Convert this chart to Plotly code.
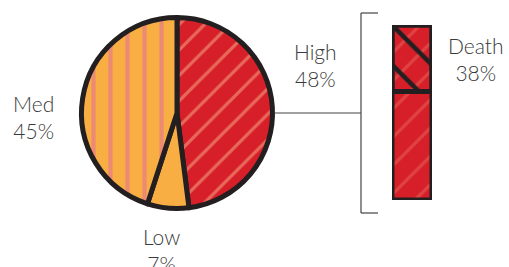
import plotly.graph_objects as go
import numpy as np

pie_labels = ["High", "Low", "Med"]
pie_values = [48, 7, 45]
pie_colors = ["#d71f2a", "#f9ae43", "#f9ae43"]
pie_stripe = ["#e8695a", "#f9ae43", "#ec8a74"]
pie_shapes = ["/", "", "|"]

bar_labels = ["Other", "Death"]
bar_values = [62, 38]

INK = "#231f20"
TXT = "#3a3a3a"
FONT = "Lato"

fig = go.Figure()

fig.add_trace(go.Pie(
    labels=pie_labels, values=pie_values, sort=False, direction="clockwise",
    rotation=0, textinfo="none", hoverinfo="label+percent",
    domain=dict(x=[81.5/509, 272.5/509], y=[58.5/267, 249.5/267]),
    marker=dict(colors=pie_colors, line=dict(color=INK, width=5),
                pattern=dict(shape=pie_shapes, fgcolor=pie_stripe, bgcolor=pie_colors,
                             size=[18, 18, 17], solidity=[0.18, 0.18, 0.25])),
    showlegend=False,
))

bases = np.concatenate([[0], np.cumsum(bar_values)[:-1]])
for lab, val, b in zip(bar_labels, bar_values, bases):
    fig.add_trace(go.Bar(
        x=["High"], y=[val], base=[b], width=1, name=lab,
        marker=dict(color="#d71f2a", line=dict(color=INK, width=5),
                    pattern=dict(shape="/", fgcolor="#e8695a", bgcolor="#d71f2a",
                                 size=20, solidity=0.16)),
        xaxis="x2", yaxis="y2", showlegend=False,
    ))
# crosshatch overlay on the Death segment
fig.add_trace(go.Bar(
    x=["High"], y=[bar_values[1]], base=[bases[1]], width=1, name=bar_labels[1],
    marker=dict(color="rgba(0,0,0,0)", line=dict(color=INK, width=5),
                pattern=dict(shape="\\", fgcolor=INK, bgcolor="rgba(0,0,0,0)",
                             fgopacity=1, size=28, solidity=0.16, fillmode="overlay")),
    xaxis="x2", yaxis="y2", showlegend=False,
))

axis_off = dict(visible=False, showgrid=False, zeroline=False, fixedrange=True)
fig.update_layout(
    width=509, height=267, margin=dict(l=0, r=0, t=0, b=0),
    paper_bgcolor="white", plot_bgcolor="rgba(0,0,0,0)",
    barmode="overlay",
    xaxis=dict(visible=False),
    yaxis=dict(visible=False),
    xaxis2=dict(domain=[392/509, 432/509], range=[-0.5, 0.5], anchor="y2", **axis_off),
    yaxis2=dict(domain=[67/267, 242/267], range=[0, 100], anchor="x2", **axis_off),
    font=dict(family=FONT, color=TXT),
)

# bracket and connector
lc = dict(color="#444444", width=1.2)
fig.add_shape(type="line", xref="paper", yref="paper", x0=275/509, x1=361/509, y0=154/267, y1=154/267, line=lc)
fig.add_shape(type="line", xref="paper", yref="paper", x0=361/509, x1=361/509, y0=54/267, y1=254/267, line=lc)
fig.add_shape(type="line", xref="paper", yref="paper", x0=361/509, x1=378/509, y0=254/267, y1=254/267, line=lc)
fig.add_shape(type="line", xref="paper", yref="paper", x0=361/509, x1=378/509, y0=54/267, y1=54/267, line=lc)

def lbl(name, pct, x, y):
    fig.add_annotation(text=f"{name}<br>{pct}%", x=x/509, y=1 - y/267, xref="paper", yref="paper",
                       showarrow=False, xanchor="center", yanchor="middle",
                       font=dict(family=FONT, size=21, color=TXT, weight=300), align="center")

lbl(pie_labels[2], pie_values[2], 33, 117)
lbl(pie_labels[0], pie_values[0], 315, 65)
lbl(pie_labels[1], pie_values[1], 161, 250)
lbl(bar_labels[1], bar_values[1], 476, 59)

fig.write_html("out.html", config={"displayModeBar": False},
               post_script="document.body.style.margin='0';")
